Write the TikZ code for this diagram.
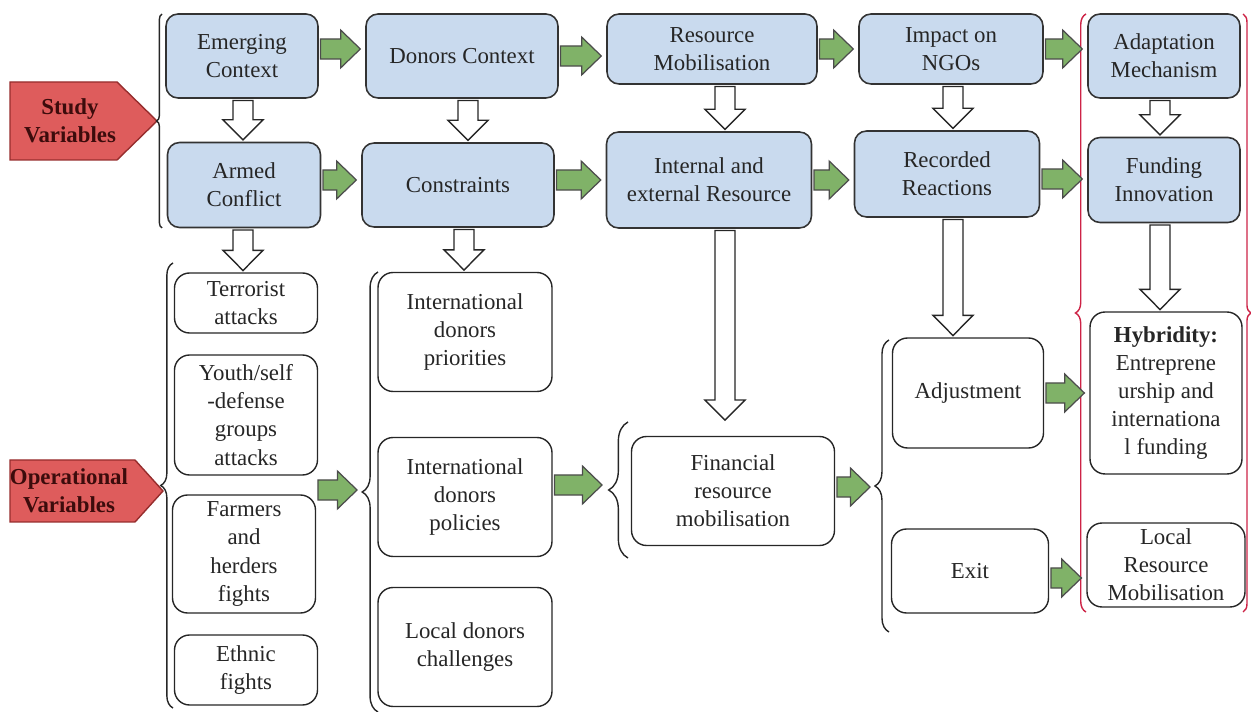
\documentclass[tikz,border=0pt]{standalone}
\usepackage{fontspec}
\setmainfont{Liberation Serif}
\usetikzlibrary{positioning, calc, decorations.pathreplacing}

\definecolor{boxblue}{RGB}{201,218,238}
\definecolor{arrowgreen}{RGB}{128,178,104}
\definecolor{tagred}{RGB}{222,92,92}
\definecolor{tagedge}{RGB}{150,45,45}
\definecolor{tagink}{RGB}{60,12,12}
\definecolor{bracered}{RGB}{205,35,70}

\tikzset{
  every node/.style={font=\fontsize{13}{16}\selectfont, align=center, text=black!85},
  boxsize/.style 2 args={minimum width=#1cm, minimum height=#2cm, inner xsep=2pt, inner ysep=1pt},
  bluebox/.style={draw=black!80, fill=boxblue, rounded corners=0.24cm, line width=0.9pt},
  whitebox/.style={draw=black!85, fill=white, rounded corners=0.3cm, line width=0.8pt},
  greenblock/.style={draw=black!70, fill=arrowgreen, line width=0.7pt},
  whiteblock/.style={draw=black!85, fill=white, line width=0.8pt},
  redtag/.style={draw=tagedge, fill=tagred, line width=0.8pt},
  tagtext/.style={font=\fontsize{13}{16}\selectfont\bfseries, text=tagink},
  curly/.style={decorate, decoration={brace, amplitude=#1}, line width=0.8pt, draw=black!85},
  curly/.default=7pt,
}

% green block arrow, left to right
\newcommand{\flowarrow}[2]{%
  \filldraw[greenblock] let \p1=(#1), \p2=(#2) in
    (\x1+1pt,\y1+5.7pt) -- (\x2-14pt,\y1+5.7pt) -- (\x2-14pt,\y1+10.8pt)
    -- (\x2-2.8pt,\y1) -- (\x2-14pt,\y1-10.8pt) -- (\x2-14pt,\y1-5.7pt)
    -- (\x1+1pt,\y1-5.7pt) -- cycle;}
% white block arrow, top to bottom
\newcommand{\droparrow}[2]{%
  \filldraw[whiteblock] let \p1=(#1), \p2=(#2) in
    (\x1-5.7pt,\y1-1pt) -- (\x1-5.7pt,\y2+12.5pt) -- (\x1-11.4pt,\y2+12.5pt)
    -- (\x1,\y2+1pt) -- (\x1+11.4pt,\y2+12.5pt) -- (\x1+5.7pt,\y2+12.5pt)
    -- (\x1+5.7pt,\y1-1pt) -- cycle;}

\begin{document}
\begin{tikzpicture}[x=0.02cm, y=-0.02cm]
  \useasboundingbox (0,0) rectangle (1251,712);

  % ---------- variable tags ----------
  \filldraw[redtag] (10,82) -- (117,82) -- (157,121) -- (117,160) -- (10,160) -- cycle;
  \node[tagtext] (study) at (70,121) {Study\\Variables};
  \filldraw[redtag] (10,460) -- (135,460) -- (163,491) -- (135,522) -- (10,522) -- cycle;
  \node[tagtext] (oper) at (69,491) {Operational\\Variables};

  % ---------- study variables, row 1 ----------
  \node[bluebox, boxsize={3.04}{1.68}] (emerging) at (242,56)  {Emerging\\Context};
  \node[bluebox, boxsize={3.84}{1.68}] (donors)   at (462,56)  {Donors Context};
  \node[bluebox, boxsize={4.2}{1.4}]   (resmob)   at (712,49)  {Resource\\Mobilisation};
  \node[bluebox, boxsize={3.68}{1.4}]  (impact)   at (951,49)  {Impact on\\NGOs};
  \node[bluebox, boxsize={3.04}{1.68}] (adapt)    at (1164,56) {Adaptation\\Mechanism};

  % ---------- study variables, row 2 ----------
  \node[bluebox, boxsize={3.06}{1.7}]  (armed)    at (244,185) {Armed\\Conflict};
  \node[bluebox, boxsize={3.84}{1.68}] (constr)   at (458,185) {Constraints};
  \node[bluebox, boxsize={4.1}{1.92}]  (intext)   at (709,180) {Internal and\\external Resource};
  \node[bluebox, boxsize={3.7}{1.72}]  (recorded) at (947,174) {Recorded\\Reactions};
  \node[bluebox, boxsize={3.04}{1.7}]  (funding)  at (1164,180) {Funding\\Innovation};

  % ---------- operational variables ----------
  \node[whitebox, boxsize={2.86}{1.2}]  (terror)  at (246,303) {Terrorist\\attacks};
  \node[whitebox, boxsize={2.86}{2.4}]  (youth)   at (246,415) {Youth/self\\-defense\\groups\\attacks};
  \node[whitebox, boxsize={2.86}{2.36}] (farmers) at (244,554) {Farmers\\and\\herders\\fights};
  \node[whitebox, boxsize={2.86}{1.4}]  (ethnic)  at (246,670) {Ethnic\\fights};

  \node[whitebox, boxsize={3.48}{2.38}] (priorities) at (465,332) {International\\donors\\priorities};
  \node[whitebox, boxsize={3.48}{2.38}] (policies)   at (465,497) {International\\donors\\policies};
  \node[whitebox, boxsize={3.48}{2.38}] (localdon)   at (465,647) {Local donors\\challenges};

  \node[whitebox, boxsize={4.06}{2.18}] (financial) at (733,491) {Financial\\resource\\mobilisation};

  \node[whitebox, boxsize={3.02}{2.2}]  (adjust) at (968,393) {Adjustment};
  \node[whitebox, boxsize={3.14}{1.68}] (exitn)  at (970,571) {Exit};

  \node[whitebox, boxsize={3.04}{3.24}] (hybrid)   at (1166,393)
    {\textbf{Hybridity:}\\Entreprene\\urship and\\internationa\\l funding};
  \node[whitebox, boxsize={3.16}{1.68}] (localres) at (1166,565) {Local\\Resource\\Mobilisation};

  % ---------- braces ----------
  \draw[curly=3pt] (162,228) -- (162,14);
  \draw[curly=7pt] (173,708) -- (173,263);
  \draw[curly=9pt] (378,712) -- (378,272);
  \draw[curly=11pt] (628,558) -- (628,422);
  \draw[curly=8pt] (889,632) -- (889,340);
  \draw[curly=6pt, draw=bracered] (1086,612) -- (1086,14);
  \draw[curly=4.5pt, draw=bracered] (1243,14) -- (1243,612);

  \coordinate (coltip) at (362,490);
  \coordinate (fintip) at (607,488);
  \coordinate (fintop) at (628,422);
  \coordinate (adjtip) at (875,487);

  % ---------- green arrows ----------
  \flowarrow{$(emerging.east)+(0,-7)$}{donors.west}
  \flowarrow{donors.east}{resmob.west}
  \flowarrow{resmob.east}{impact.west}
  \flowarrow{impact.east}{adapt.west}
  \flowarrow{$(armed.east)+(0,-5)$}{constr.west}
  \flowarrow{$(constr.east)+(0,-5)$}{intext.west}
  \flowarrow{intext.east}{recorded.west}
  \flowarrow{$(recorded.east)+(0,5)$}{funding.west}
  \flowarrow{farmers.east |- coltip}{coltip}
  \flowarrow{$(policies.east |- fintip)+(0,-3)$}{fintip}
  \flowarrow{financial.east |- adjtip}{adjtip}
  \flowarrow{adjust.east}{hybrid.west}
  \flowarrow{$(exitn.east)+(0,7)$}{localres.west}

  % ---------- white arrows ----------
  \droparrow{$(emerging.south)+(1,0)$}{armed.north}
  \droparrow{$(donors.south)+(6,0)$}{constr.north}
  \droparrow{$(resmob.south)+(13,0)$}{intext.north}
  \droparrow{$(impact.south)+(2,0)$}{recorded.north}
  \droparrow{$(adapt.south)+(-4,0)$}{funding.north}
  \droparrow{$(armed.south)+(-1,0)$}{terror.north}
  \droparrow{$(constr.south)+(6,0)$}{priorities.north}
  \droparrow{$(intext.south)+(16,0)$}{fintop}
  \droparrow{$(recorded.south)+(6,0)$}{adjust.north}
  \droparrow{$(funding.south)+(-4,0)$}{hybrid.north}

\end{tikzpicture}
\end{document}
